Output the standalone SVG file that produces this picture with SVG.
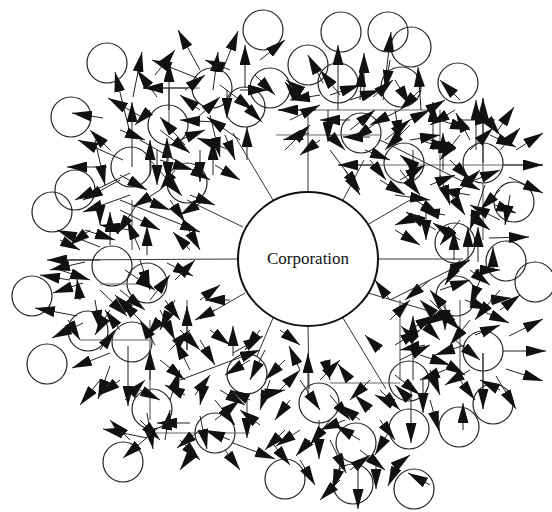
<svg xmlns="http://www.w3.org/2000/svg" width="552" height="512" viewBox="0 0 552 512">
<defs>
<marker id="ah" viewBox="0 0 20 11" refX="20" refY="5.5" markerWidth="20" markerHeight="11" markerUnits="userSpaceOnUse" orient="auto"><path d="M0,0 L20,5.5 L0,11 z" fill="#111"/></marker>
<style>
.n{fill:none;stroke:#222;stroke-width:1.2}
.c{fill:#fff;stroke:#111;stroke-width:2}
.s{stroke:#333;stroke-width:1}
.g{stroke:#666;stroke-width:1.2}
.a line{stroke:#222;stroke-width:1;marker-end:url(#ah)}
.t{font-family:"Liberation Serif",serif;font-size:17px;fill:#111}
</style>
</defs>
<rect width="552" height="512" fill="#fff"/>
<g id="nodes-ring">
<g id="n1"><circle class="n" cx="107" cy="63" r="20"/></g>
<g id="n2"><circle class="n" cx="71" cy="117" r="20"/></g>
<g id="n3"><circle class="n" cx="263" cy="30" r="20"/></g>
<g id="n4"><circle class="n" cx="75" cy="190" r="20"/></g>
<g id="n5"><circle class="n" cx="52" cy="212" r="20"/></g>
<g id="n6"><circle class="n" cx="212" cy="88" r="20"/></g>
<g id="n7"><circle class="n" cx="168" cy="125" r="20"/></g>
<g id="n8"><circle class="n" cx="131" cy="167" r="20"/></g>
<g id="n9"><circle class="n" cx="187" cy="183" r="20"/></g>
<g id="n10"><circle class="n" cx="245" cy="107" r="20"/></g>
<g id="n11"><circle class="n" cx="341" cy="32" r="20"/></g>
<g id="n12"><circle class="n" cx="388" cy="32" r="20"/></g>
<g id="n13"><circle class="n" cx="411" cy="47" r="20"/></g>
<g id="n14"><circle class="n" cx="308" cy="65" r="20"/></g>
<g id="n15"><circle class="n" cx="458" cy="83" r="20"/></g>
<g id="n16"><circle class="n" cx="338" cy="83" r="20"/></g>
<g id="n17"><circle class="n" cx="401" cy="87" r="20"/></g>
<g id="n18"><circle class="n" cx="361" cy="133" r="20"/></g>
<g id="n19"><circle class="n" cx="404" cy="163" r="20"/></g>
<g id="n20"><circle class="n" cx="483" cy="163" r="20"/></g>
<g id="n21"><circle class="n" cx="514" cy="202" r="20"/></g>
<g id="n22"><circle class="n" cx="32" cy="296" r="20"/></g>
<g id="n23"><circle class="n" cx="47" cy="364" r="20"/></g>
<g id="n24"><circle class="n" cx="88" cy="331" r="20"/></g>
<g id="n25"><circle class="n" cx="132" cy="342" r="20"/></g>
<g id="n26"><circle class="n" cx="147" cy="283" r="20"/></g>
<g id="n27"><circle class="n" cx="112" cy="266" r="20"/></g>
<g id="n28"><circle class="n" cx="152" cy="409" r="20"/></g>
<g id="n29"><circle class="n" cx="123" cy="462" r="20"/></g>
<g id="n30"><circle class="n" cx="215" cy="433" r="20"/></g>
<g id="n31"><circle class="n" cx="247" cy="374" r="20"/></g>
<g id="n32"><circle class="n" cx="285" cy="479" r="20"/></g>
<g id="n33"><circle class="n" cx="535" cy="282" r="20"/></g>
<g id="n34"><circle class="n" cx="506" cy="261" r="20"/></g>
<g id="n35"><circle class="n" cx="456" cy="296" r="20"/></g>
<g id="n36"><circle class="n" cx="483" cy="351" r="20"/></g>
<g id="n37"><circle class="n" cx="493" cy="404" r="20"/></g>
<g id="n38"><circle class="n" cx="459" cy="427" r="20"/></g>
<g id="n39"><circle class="n" cx="409" cy="429" r="20"/></g>
<g id="n40"><circle class="n" cx="409" cy="381" r="20"/></g>
<g id="n41"><circle class="n" cx="319" cy="403" r="20"/></g>
<g id="n42"><circle class="n" cx="356" cy="443" r="20"/></g>
<g id="n44"><circle class="n" cx="353" cy="484" r="20"/></g>
<g id="n45"><circle class="n" cx="414" cy="489" r="20"/></g>
<g id="n46"><circle class="n" cx="270" cy="88" r="20"/></g>
<g id="n47"><circle class="n" cx="455" cy="243" r="20"/></g>
</g>
<g id="connectors">
<g id="spokes">
<line class="s" x1="308" y1="192" x2="308" y2="110"/>
<line class="s" x1="343" y1="200" x2="364" y2="160"/>
<line class="s" x1="367" y1="225" x2="410" y2="200"/>
<line class="s" x1="377" y1="259" x2="463" y2="259"/>
<line class="s" x1="368" y1="293" x2="436" y2="313"/>
<line class="s" x1="343" y1="318" x2="386" y2="389"/>
<line class="s" x1="308" y1="326" x2="309" y2="389"/>
<line class="s" x1="273" y1="318" x2="257" y2="356"/>
<line class="s" x1="245" y1="293" x2="200" y2="319"/>
<line class="s" x1="238" y1="259" x2="60" y2="260"/>
<line class="s" x1="243" y1="227" x2="187" y2="200"/>
<line class="s" x1="273" y1="200" x2="233" y2="133"/>
</g>
<g id="grid-lines">
<line class="g" x1="143" y1="88" x2="200" y2="88"/>
<line class="g" x1="169" y1="88" x2="169" y2="135"/>
<line class="g" x1="278" y1="110" x2="430" y2="110"/>
<line class="g" x1="276" y1="135" x2="380" y2="135"/>
<line class="g" x1="338" y1="165" x2="543" y2="165"/>
<line class="g" x1="483" y1="98" x2="483" y2="240"/>
<line class="g" x1="483" y1="353" x2="483" y2="409"/>
<line class="g" x1="330" y1="383" x2="400" y2="383"/>
<line class="g" x1="150" y1="433" x2="250" y2="433"/>
<line class="g" x1="100" y1="284" x2="150" y2="284"/>
<line class="g" x1="80" y1="340" x2="150" y2="340"/>
<line class="g" x1="132" y1="200" x2="132" y2="250"/>
<line class="g" x1="400" y1="300" x2="400" y2="380"/>
<line class="g" x1="187" y1="300" x2="187" y2="350"/>
<line class="g" x1="440" y1="110" x2="440" y2="180"/>
<line class="g" x1="460" y1="300" x2="460" y2="380"/>
<line class="g" x1="150" y1="320" x2="150" y2="420"/>
</g>
<g class="a" id="arrows">
<line x1="200" y1="70" x2="178" y2="30"/>
<line x1="222" y1="72" x2="238" y2="31"/>
<line x1="245" y1="88" x2="245" y2="45"/>
<line x1="213" y1="90" x2="218" y2="52"/>
<line x1="133" y1="97" x2="142" y2="52"/>
<line x1="197" y1="78" x2="152" y2="60"/>
<line x1="169" y1="110" x2="169" y2="62"/>
<line x1="157" y1="97" x2="137" y2="70"/>
<line x1="187" y1="88" x2="143" y2="88"/>
<line x1="130" y1="133" x2="115" y2="72"/>
<line x1="140" y1="116" x2="108" y2="98"/>
<line x1="132" y1="167" x2="132" y2="102"/>
<line x1="103" y1="118" x2="72" y2="113"/>
<line x1="123" y1="160" x2="78" y2="140"/>
<line x1="107" y1="167" x2="67" y2="167"/>
<line x1="130" y1="173" x2="75" y2="200"/>
<line x1="100" y1="247" x2="57" y2="230"/>
<line x1="185" y1="145" x2="160" y2="117"/>
<line x1="167" y1="170" x2="167" y2="138"/>
<line x1="215" y1="122" x2="180" y2="120"/>
<line x1="230" y1="150" x2="197" y2="138"/>
<line x1="213" y1="175" x2="213" y2="140"/>
<line x1="210" y1="115" x2="220" y2="157"/>
<line x1="160" y1="160" x2="193" y2="170"/>
<line x1="200" y1="150" x2="200" y2="182"/>
<line x1="150" y1="160" x2="182" y2="196"/>
<line x1="157" y1="150" x2="157" y2="185"/>
<line x1="168" y1="150" x2="168" y2="182"/>
<line x1="120" y1="175" x2="147" y2="190"/>
<line x1="160" y1="190" x2="133" y2="207"/>
<line x1="140" y1="200" x2="117" y2="234"/>
<line x1="120" y1="180" x2="83" y2="200"/>
<line x1="130" y1="195" x2="83" y2="212"/>
<line x1="110" y1="245" x2="110" y2="212"/>
<line x1="140" y1="250" x2="127" y2="220"/>
<line x1="147" y1="255" x2="147" y2="226"/>
<line x1="190" y1="250" x2="173" y2="232"/>
<line x1="170" y1="200" x2="185" y2="222"/>
<line x1="240" y1="140" x2="207" y2="117"/>
<line x1="195" y1="120" x2="220" y2="97"/>
<line x1="227" y1="90" x2="227" y2="118"/>
<line x1="220" y1="85" x2="253" y2="110"/>
<line x1="240" y1="100" x2="262" y2="122"/>
<line x1="240" y1="90" x2="268" y2="90"/>
<line x1="247" y1="160" x2="247" y2="127"/>
<line x1="160" y1="130" x2="190" y2="153"/>
<line x1="150" y1="175" x2="150" y2="140"/>
<line x1="95" y1="140" x2="105" y2="185"/>
<line x1="260" y1="60" x2="285" y2="40"/>
<line x1="255" y1="75" x2="275" y2="95"/>
<line x1="185" y1="90" x2="205" y2="75"/>
<line x1="120" y1="210" x2="160" y2="230"/>
<line x1="180" y1="215" x2="200" y2="250"/>
<line x1="205" y1="200" x2="180" y2="215"/>
<line x1="180" y1="140" x2="205" y2="130"/>
<line x1="200" y1="110" x2="180" y2="95"/>
<line x1="150" y1="110" x2="135" y2="125"/>
<line x1="120" y1="130" x2="145" y2="140"/>
<line x1="110" y1="150" x2="90" y2="130"/>
<line x1="145" y1="200" x2="170" y2="210"/>
<line x1="175" y1="170" x2="160" y2="190"/>
<line x1="225" y1="135" x2="235" y2="160"/>
<line x1="215" y1="165" x2="240" y2="180"/>
<line x1="190" y1="195" x2="215" y2="205"/>
<line x1="100" y1="200" x2="100" y2="225"/>
<line x1="85" y1="230" x2="115" y2="240"/>
<line x1="155" y1="75" x2="175" y2="50"/>
<line x1="230" y1="70" x2="205" y2="60"/>
<line x1="140" y1="140" x2="210" y2="180"/>
<line x1="120" y1="200" x2="200" y2="232"/>
<line x1="323" y1="83" x2="308" y2="55"/>
<line x1="338" y1="110" x2="338" y2="45"/>
<line x1="364" y1="100" x2="364" y2="53"/>
<line x1="360" y1="100" x2="362" y2="67"/>
<line x1="383" y1="100" x2="391" y2="32"/>
<line x1="421" y1="110" x2="418" y2="67"/>
<line x1="373" y1="97" x2="393" y2="80"/>
<line x1="316" y1="110" x2="278" y2="110"/>
<line x1="299" y1="100" x2="285" y2="82"/>
<line x1="309" y1="133" x2="283" y2="140"/>
<line x1="328" y1="110" x2="328" y2="142"/>
<line x1="376" y1="165" x2="338" y2="165"/>
<line x1="330" y1="150" x2="360" y2="190"/>
<line x1="436" y1="230" x2="406" y2="212"/>
<line x1="460" y1="240" x2="433" y2="223"/>
<line x1="503" y1="165" x2="543" y2="165"/>
<line x1="516" y1="150" x2="543" y2="133"/>
<line x1="509" y1="177" x2="543" y2="193"/>
<line x1="496" y1="133" x2="514" y2="107"/>
<line x1="483" y1="163" x2="483" y2="98"/>
<line x1="476" y1="150" x2="476" y2="100"/>
<line x1="433" y1="150" x2="433" y2="102"/>
<line x1="443" y1="170" x2="443" y2="133"/>
<line x1="470" y1="140" x2="456" y2="113"/>
<line x1="470" y1="150" x2="493" y2="128"/>
<line x1="490" y1="135" x2="516" y2="147"/>
<line x1="489" y1="238" x2="529" y2="237"/>
<line x1="495" y1="205" x2="516" y2="213"/>
<line x1="426" y1="210" x2="426" y2="240"/>
<line x1="454" y1="260" x2="454" y2="230"/>
<line x1="468" y1="262" x2="468" y2="227"/>
<line x1="478" y1="262" x2="478" y2="227"/>
<line x1="493" y1="270" x2="493" y2="247"/>
<line x1="413" y1="150" x2="413" y2="183"/>
<line x1="370" y1="160" x2="386" y2="180"/>
<line x1="380" y1="120" x2="353" y2="140"/>
<line x1="370" y1="137" x2="343" y2="137"/>
<line x1="300" y1="90" x2="286" y2="80"/>
<line x1="290" y1="120" x2="320" y2="105"/>
<line x1="350" y1="120" x2="320" y2="120"/>
<line x1="400" y1="110" x2="370" y2="125"/>
<line x1="400" y1="125" x2="430" y2="110"/>
<line x1="395" y1="110" x2="400" y2="140"/>
<line x1="410" y1="125" x2="385" y2="150"/>
<line x1="420" y1="140" x2="450" y2="150"/>
<line x1="460" y1="135" x2="440" y2="160"/>
<line x1="450" y1="160" x2="470" y2="180"/>
<line x1="460" y1="190" x2="480" y2="170"/>
<line x1="440" y1="175" x2="450" y2="205"/>
<line x1="470" y1="195" x2="440" y2="190"/>
<line x1="400" y1="170" x2="420" y2="195"/>
<line x1="395" y1="195" x2="430" y2="200"/>
<line x1="500" y1="190" x2="480" y2="210"/>
<line x1="500" y1="220" x2="470" y2="205"/>
<line x1="510" y1="195" x2="505" y2="225"/>
<line x1="420" y1="215" x2="395" y2="225"/>
<line x1="345" y1="170" x2="360" y2="195"/>
<line x1="350" y1="130" x2="375" y2="110"/>
<line x1="325" y1="130" x2="345" y2="150"/>
<line x1="395" y1="80" x2="410" y2="105"/>
<line x1="420" y1="90" x2="400" y2="110"/>
<line x1="455" y1="110" x2="430" y2="125"/>
<line x1="480" y1="110" x2="500" y2="135"/>
<line x1="460" y1="120" x2="495" y2="120"/>
<line x1="365" y1="150" x2="390" y2="160"/>
<line x1="330" y1="95" x2="360" y2="85"/>
<line x1="445" y1="185" x2="465" y2="215"/>
<line x1="485" y1="185" x2="470" y2="230"/>
<line x1="400" y1="180" x2="425" y2="165"/>
<line x1="420" y1="170" x2="400" y2="155"/>
<line x1="430" y1="185" x2="455" y2="175"/>
<line x1="410" y1="140" x2="440" y2="135"/>
<line x1="455" y1="150" x2="430" y2="140"/>
<line x1="415" y1="200" x2="440" y2="215"/>
<line x1="445" y1="215" x2="420" y2="210"/>
<line x1="460" y1="220" x2="440" y2="245"/>
<line x1="470" y1="215" x2="490" y2="230"/>
<line x1="475" y1="180" x2="500" y2="170"/>
<line x1="500" y1="150" x2="520" y2="128"/>
<line x1="440" y1="120" x2="470" y2="130"/>
<line x1="420" y1="115" x2="445" y2="100"/>
<line x1="385" y1="140" x2="410" y2="120"/>
<line x1="380" y1="180" x2="405" y2="195"/>
<line x1="395" y1="230" x2="420" y2="245"/>
<line x1="460" y1="100" x2="440" y2="80"/>
<line x1="350" y1="100" x2="380" y2="90"/>
<line x1="320" y1="140" x2="300" y2="155"/>
<line x1="340" y1="95" x2="320" y2="70"/>
<line x1="390" y1="60" x2="385" y2="90"/>
<line x1="285" y1="150" x2="310" y2="125"/>
<line x1="320" y1="95" x2="290" y2="100"/>
<line x1="380" y1="140" x2="480" y2="190"/>
<line x1="100" y1="260" x2="47" y2="260"/>
<line x1="167" y1="263" x2="193" y2="276"/>
<line x1="83" y1="283" x2="53" y2="293"/>
<line x1="77" y1="316" x2="35" y2="308"/>
<line x1="83" y1="323" x2="52" y2="338"/>
<line x1="110" y1="353" x2="72" y2="368"/>
<line x1="110" y1="366" x2="98" y2="399"/>
<line x1="128" y1="346" x2="128" y2="406"/>
<line x1="147" y1="413" x2="153" y2="449"/>
<line x1="147" y1="438" x2="103" y2="429"/>
<line x1="157" y1="429" x2="123" y2="458"/>
<line x1="200" y1="430" x2="177" y2="448"/>
<line x1="190" y1="423" x2="157" y2="423"/>
<line x1="200" y1="416" x2="207" y2="449"/>
<line x1="247" y1="393" x2="247" y2="438"/>
<line x1="233" y1="356" x2="233" y2="326"/>
<line x1="233" y1="353" x2="263" y2="336"/>
<line x1="233" y1="443" x2="275" y2="459"/>
<line x1="187" y1="350" x2="187" y2="306"/>
<line x1="160" y1="320" x2="147" y2="336"/>
<line x1="80" y1="300" x2="77" y2="279"/>
<line x1="100" y1="290" x2="127" y2="316"/>
<line x1="60" y1="270" x2="90" y2="280"/>
<line x1="95" y1="300" x2="100" y2="330"/>
<line x1="120" y1="290" x2="145" y2="310"/>
<line x1="125" y1="270" x2="155" y2="290"/>
<line x1="150" y1="300" x2="170" y2="275"/>
<line x1="140" y1="260" x2="150" y2="290"/>
<line x1="160" y1="310" x2="175" y2="340"/>
<line x1="175" y1="300" x2="160" y2="330"/>
<line x1="180" y1="330" x2="200" y2="350"/>
<line x1="190" y1="370" x2="175" y2="340"/>
<line x1="200" y1="340" x2="215" y2="365"/>
<line x1="210" y1="330" x2="230" y2="345"/>
<line x1="160" y1="360" x2="185" y2="380"/>
<line x1="170" y1="400" x2="180" y2="370"/>
<line x1="195" y1="395" x2="210" y2="375"/>
<line x1="205" y1="380" x2="200" y2="405"/>
<line x1="215" y1="400" x2="235" y2="425"/>
<line x1="150" y1="380" x2="150" y2="350"/>
<line x1="140" y1="390" x2="160" y2="400"/>
<line x1="125" y1="400" x2="145" y2="380"/>
<line x1="100" y1="350" x2="115" y2="330"/>
<line x1="110" y1="310" x2="95" y2="335"/>
<line x1="68" y1="320" x2="80" y2="340"/>
<line x1="165" y1="440" x2="170" y2="410"/>
<line x1="215" y1="420" x2="240" y2="400"/>
<line x1="230" y1="440" x2="205" y2="430"/>
<line x1="260" y1="425" x2="240" y2="410"/>
<line x1="250" y1="360" x2="225" y2="375"/>
<line x1="265" y1="350" x2="250" y2="380"/>
<line x1="85" y1="262" x2="50" y2="270"/>
<line x1="70" y1="280" x2="40" y2="275"/>
<line x1="120" y1="330" x2="105" y2="310"/>
<line x1="140" y1="320" x2="120" y2="300"/>
<line x1="175" y1="280" x2="195" y2="260"/>
<line x1="200" y1="300" x2="220" y2="285"/>
<line x1="215" y1="310" x2="195" y2="320"/>
<line x1="230" y1="300" x2="205" y2="300"/>
<line x1="170" y1="350" x2="190" y2="330"/>
<line x1="185" y1="395" x2="165" y2="385"/>
<line x1="140" y1="420" x2="160" y2="440"/>
<line x1="180" y1="440" x2="200" y2="460"/>
<line x1="220" y1="390" x2="245" y2="405"/>
<line x1="250" y1="400" x2="230" y2="390"/>
<line x1="165" y1="300" x2="180" y2="320"/>
<line x1="130" y1="310" x2="115" y2="295"/>
<line x1="155" y1="345" x2="140" y2="320"/>
<line x1="100" y1="380" x2="80" y2="405"/>
<line x1="120" y1="380" x2="100" y2="395"/>
<line x1="130" y1="440" x2="110" y2="420"/>
<line x1="260" y1="330" x2="245" y2="350"/>
<line x1="270" y1="380" x2="260" y2="410"/>
<line x1="225" y1="450" x2="240" y2="470"/>
<line x1="195" y1="450" x2="180" y2="470"/>
<line x1="180" y1="380" x2="260" y2="350"/>
<line x1="503" y1="351" x2="546" y2="351"/>
<line x1="509" y1="336" x2="543" y2="319"/>
<line x1="506" y1="369" x2="543" y2="381"/>
<line x1="496" y1="376" x2="516" y2="409"/>
<line x1="483" y1="353" x2="483" y2="409"/>
<line x1="430" y1="400" x2="439" y2="431"/>
<line x1="423" y1="380" x2="423" y2="413"/>
<line x1="411" y1="383" x2="411" y2="443"/>
<line x1="413" y1="380" x2="413" y2="316"/>
<line x1="415" y1="340" x2="401" y2="326"/>
<line x1="300" y1="370" x2="289" y2="346"/>
<line x1="308" y1="395" x2="308" y2="353"/>
<line x1="350" y1="380" x2="338" y2="364"/>
<line x1="343" y1="456" x2="333" y2="489"/>
<line x1="358" y1="469" x2="358" y2="509"/>
<line x1="376" y1="460" x2="376" y2="489"/>
<line x1="400" y1="460" x2="388" y2="486"/>
<line x1="430" y1="485" x2="408" y2="473"/>
<line x1="300" y1="430" x2="276" y2="446"/>
<line x1="310" y1="440" x2="296" y2="456"/>
<line x1="319" y1="420" x2="319" y2="459"/>
<line x1="330" y1="440" x2="346" y2="473"/>
<line x1="463" y1="430" x2="463" y2="403"/>
<line x1="480" y1="310" x2="509" y2="323"/>
<line x1="490" y1="300" x2="511" y2="298"/>
<line x1="440" y1="290" x2="470" y2="280"/>
<line x1="450" y1="310" x2="425" y2="325"/>
<line x1="430" y1="300" x2="460" y2="330"/>
<line x1="470" y1="320" x2="450" y2="345"/>
<line x1="455" y1="340" x2="480" y2="360"/>
<line x1="440" y1="360" x2="465" y2="375"/>
<line x1="470" y1="370" x2="445" y2="385"/>
<line x1="420" y1="355" x2="450" y2="365"/>
<line x1="400" y1="360" x2="430" y2="345"/>
<line x1="395" y1="345" x2="420" y2="330"/>
<line x1="480" y1="280" x2="470" y2="305"/>
<line x1="500" y1="290" x2="475" y2="320"/>
<line x1="500" y1="310" x2="520" y2="295"/>
<line x1="460" y1="260" x2="445" y2="285"/>
<line x1="475" y1="270" x2="500" y2="270"/>
<line x1="390" y1="320" x2="410" y2="300"/>
<line x1="440" y1="320" x2="420" y2="300"/>
<line x1="465" y1="345" x2="435" y2="355"/>
<line x1="380" y1="390" x2="400" y2="410"/>
<line x1="370" y1="380" x2="350" y2="400"/>
<line x1="360" y1="420" x2="340" y2="405"/>
<line x1="380" y1="420" x2="395" y2="440"/>
<line x1="360" y1="440" x2="335" y2="425"/>
<line x1="345" y1="420" x2="320" y2="430"/>
<line x1="330" y1="395" x2="350" y2="420"/>
<line x1="300" y1="380" x2="320" y2="410"/>
<line x1="290" y1="400" x2="275" y2="420"/>
<line x1="285" y1="430" x2="265" y2="450"/>
<line x1="270" y1="440" x2="290" y2="465"/>
<line x1="300" y1="460" x2="315" y2="485"/>
<line x1="340" y1="480" x2="320" y2="500"/>
<line x1="360" y1="450" x2="385" y2="470"/>
<line x1="390" y1="430" x2="375" y2="455"/>
<line x1="410" y1="400" x2="395" y2="385"/>
<line x1="325" y1="360" x2="330" y2="380"/>
<line x1="285" y1="360" x2="265" y2="380"/>
<line x1="260" y1="395" x2="285" y2="390"/>
<line x1="280" y1="330" x2="300" y2="345"/>
<line x1="430" y1="280" x2="405" y2="300"/>
<line x1="445" y1="300" x2="445" y2="330"/>
<line x1="455" y1="320" x2="430" y2="290"/>
<line x1="465" y1="300" x2="490" y2="310"/>
<line x1="475" y1="335" x2="500" y2="325"/>
<line x1="420" y1="320" x2="440" y2="340"/>
<line x1="410" y1="330" x2="435" y2="315"/>
<line x1="425" y1="345" x2="400" y2="350"/>
<line x1="445" y1="370" x2="420" y2="380"/>
<line x1="460" y1="380" x2="475" y2="400"/>
<line x1="430" y1="370" x2="440" y2="395"/>
<line x1="395" y1="375" x2="420" y2="395"/>
<line x1="390" y1="300" x2="375" y2="280"/>
<line x1="470" y1="270" x2="490" y2="285"/>
<line x1="500" y1="390" x2="480" y2="380"/>
<line x1="380" y1="350" x2="365" y2="335"/>
<line x1="395" y1="405" x2="375" y2="395"/>
<line x1="390" y1="300" x2="470" y2="260"/>
<line x1="280" y1="390" x2="300" y2="370"/>
<line x1="320" y1="380" x2="340" y2="360"/>
<line x1="330" y1="420" x2="310" y2="445"/>
<line x1="350" y1="470" x2="370" y2="455"/>
<line x1="390" y1="470" x2="410" y2="455"/>
<line x1="370" y1="410" x2="355" y2="395"/>
<line x1="130" y1="230" x2="100" y2="225"/>
<line x1="90" y1="230" x2="70" y2="245"/>
<line x1="60" y1="240" x2="80" y2="250"/>
</g>
</g>
<g id="corporation">
<ellipse class="c" cx="308" cy="259" rx="70" ry="67"/>
<text class="t" x="308" y="264" text-anchor="middle">Corporation</text>
</g>
</svg>
